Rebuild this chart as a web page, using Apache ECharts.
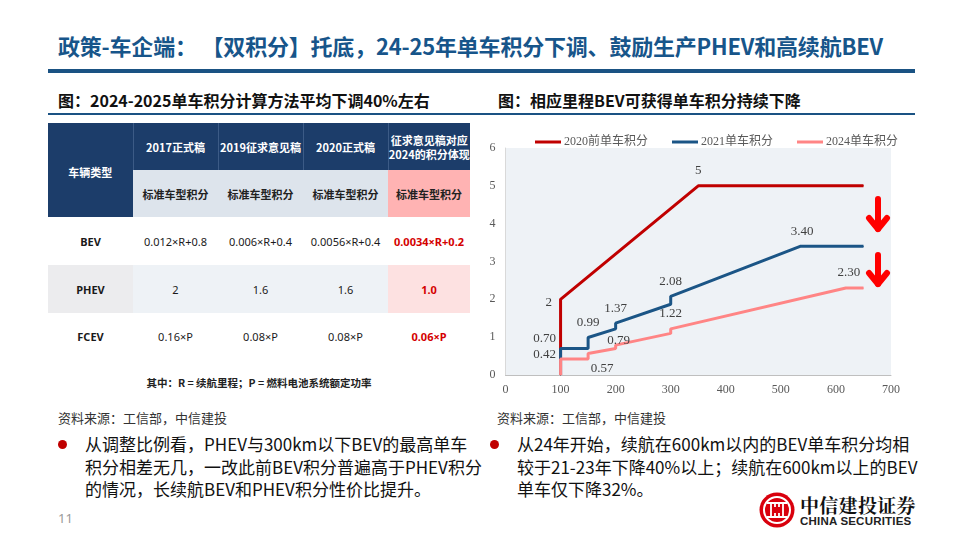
<!DOCTYPE html>
<html>
<head>
<meta charset="utf-8">
<script src="https://cdn.jsdelivr.net/npm/echarts@6/dist/echarts.min.js"></script>
<style>
  html,body{margin:0;padding:0;background:#fff;}
  #slide{position:relative;width:960px;height:540px;overflow:hidden;background:#fff;font-family:"Noto Sans CJK SC","Noto Sans",sans-serif;color:#1a1a1a;}
  .abs{position:absolute;white-space:nowrap;}
  #title{left:58px;top:30px;font-size:22px;font-weight:bold;color:#17558a;line-height:30px;letter-spacing:-0.2px;}
  .thick{position:absolute;left:48px;width:867px;top:69px;height:4px;background:#1a5283;}
  .thin{position:absolute;left:48px;width:867px;top:113px;height:2px;background:#1a5283;}
  .sub{font-size:16px;font-weight:bold;color:#111;line-height:22px;top:89px;}
  table{position:absolute;left:48px;top:123px;border-collapse:collapse;table-layout:fixed;font-size:11px;font-family:"Noto Sans","Noto Sans CJK SC",sans-serif;}
  td{padding:0;text-align:center;vertical-align:middle;}
  .hd{background:#1c3d6a;color:#fff;font-weight:bold;border-left:1px solid #3c5b86;line-height:14px;font-family:"Noto Sans CJK SC",sans-serif;}
  .sh{background:#dde4ec;font-weight:bold;color:#222;font-size:11px;font-family:"Noto Sans CJK SC",sans-serif;}
  .pinkh{background:#ffb3b3;}
  .rowg td{background:#eef2f6;}
  .rowg td.c0{background:#ececee;}
  .rowg td.pk{background:#fde1e1;}
  .c0{font-weight:bold;}
  .red{color:#d40000;font-weight:bold;}
  .note{font-size:10.5px;font-weight:bold;color:#222;}
  .src{font-size:13px;color:#333;top:409px;line-height:18px;}
  .bullet{font-size:17px;line-height:22.5px;color:#111;top:433px;white-space:pre;}
  .dot{position:absolute;width:9px;height:9px;border-radius:50%;background:#c00000;top:440px;}
  #chart{position:absolute;left:480px;top:120px;width:440px;height:290px;}
</style>
</head>
<body>
<div id="slide">
  <div id="title" class="abs"></div>
  <div class="thick"></div>
  <div class="abs sub" style="left:58px;" id="subL"></div>
  <div class="abs sub" style="left:498px;" id="subR"></div>
  <div class="thin"></div>
  <table id="tbl"></table>
  <div class="abs note" id="note" style="left:48px;width:422px;text-align:center;top:375px;"></div>
  <div class="abs src" style="left:58px;" id="srcL"></div>
  <div class="abs src" style="left:497px;" id="srcR"></div>
  <div class="dot" style="left:58px;"></div>
  <div class="abs bullet" style="left:85px;" id="bulL"></div>
  <div class="dot" style="left:490px;"></div>
  <div class="abs bullet" style="left:517px;" id="bulR"></div>
  <div class="abs" style="left:58px;top:509px;font-size:13px;color:#999;font-family:'Noto Sans',sans-serif;" id="page"></div>
  <div id="chart"></div>
  <svg class="abs" style="left:758px;top:491px;" width="40" height="40" viewBox="0 0 40 40">
    <circle cx="19" cy="19" r="17.5" fill="#d9000d"/>
    <circle cx="19" cy="19" r="13" fill="none" stroke="#fff" stroke-width="2"/>
    <path d="M9 12 H29 M9 26 H29" stroke="#fff" stroke-width="2"/>
    <path d="M13 12 V26 M17 12 V26 M21 12 V26 M25 12 V26" stroke="#fff" stroke-width="1.8"/>
    <rect x="15" y="16" width="8" height="6" fill="#d9000d"/>
  </svg>
  <div class="abs" style="left:800px;top:494px;font-size:19px;font-weight:bold;font-family:'Noto Serif CJK SC','Noto Sans CJK SC',serif;color:#111;line-height:22px;letter-spacing:0.3px;">中信建投证券</div>
  <div class="abs" style="left:800px;top:514px;font-size:11.5px;font-weight:bold;font-family:'Liberation Sans',Arial,sans-serif;color:#222;line-height:14px;letter-spacing:0.2px;">CHINA SECURITIES</div>
</div>
<script>
// ---------- slide text ----------
const titleText = '政策-车企端： 【双积分】托底，24-25年单车积分下调、鼓励生产PHEV和高续航BEV';
const leftSubtitle = '图：2024-2025单车积分计算方法平均下调40%左右';
const rightSubtitle = '图：相应里程BEV可获得单车积分持续下降';
const sourceText = '资料来源：工信部，中信建投';
const leftBullet = ['从调整比例看，PHEV与300km以下BEV的最高单车','积分相差无几，一改此前BEV积分普遍高于PHEV积分','的情况，长续航BEV和PHEV积分性价比提升。'];
const rightBullet = ['从24年开始，续航在600km以内的BEV单车积分均相','较于21-23年下降40%以上；续航在600km以上的BEV','单车仅下降32%。'];
const pageNumber = '11';

// ---------- table data ----------
const tableCorner = '车辆类型';
const tableVersions = ['2017正式稿','2019征求意见稿','2020正式稿','征求意见稿对应\n2024的积分体现'];
const tableSubHeader = '标准车型积分';
const vehicleTypes = ['BEV','PHEV','FCEV'];
const bevCredits = ['0.012×R+0.8','0.006×R+0.4','0.0056×R+0.4','0.0034×R+0.2'];
const phevCredits = ['2','1.6','1.6','1.0'];
const fcevCredits = ['0.16×P','0.08×P','0.08×P','0.06×P'];
const tableNote = '其中：R = 续航里程；P = 燃料电池系统额定功率';

// ---------- chart data ----------
const seriesNames = ['2020前单车积分','2021单车积分','2024单车积分'];
const range2020 = [100,100,350,650];
const credit2020 = [0,2,5,5];
const range2021 = [100,100,150,150,200,200,300,300,535,650];
const credit2021 = [0,0.70,0.70,0.99,1.22,1.37,1.87,2.08,3.40,3.40];
const range2024 = [100,100,150,150,200,200,300,300,618,650];
const credit2024 = [0,0.42,0.42,0.57,0.70,0.79,1.10,1.22,2.30,2.30];

// fill slide text
document.getElementById('title').textContent = titleText;
document.getElementById('subL').textContent = leftSubtitle;
document.getElementById('subR').textContent = rightSubtitle;
document.getElementById('srcL').textContent = sourceText;
document.getElementById('srcR').textContent = sourceText;
document.getElementById('bulL').textContent = leftBullet.join('\n');
document.getElementById('bulR').textContent = rightBullet.join('\n');
document.getElementById('page').textContent = pageNumber;
document.getElementById('note').textContent = tableNote;

// build table
(function(){
  const colW = [85,85,85,85,82];
  const rowH = [47,47,48,48,47];
  const t = document.getElementById('tbl');
  let html = '<colgroup>' + colW.map(w=>'<col style="width:'+w+'px">').join('') + '</colgroup>';
  html += '<tr style="height:'+rowH[0]+'px"><td rowspan="2" class="hd" style="border-left:none;font-size:11px;padding-top:4px">'+tableCorner+'</td>';
  tableVersions.forEach(v=>{ html += '<td class="hd" style="white-space:pre-line;font-size:11px">'+v+'</td>'; });
  html += '</tr><tr style="height:'+rowH[1]+'px">';
  tableVersions.forEach((v,i)=>{ html += '<td class="sh'+(i===3?' pinkh':'')+'">'+tableSubHeader+'</td>'; });
  html += '</tr>';
  const rows = [bevCredits, phevCredits, fcevCredits];
  rows.forEach((r,ri)=>{
    html += '<tr class="'+(ri===1?'rowg':'')+'" style="height:'+rowH[2+ri]+'px"><td class="c0">'+vehicleTypes[ri]+'</td>';
    r.forEach((v,i)=>{ html += '<td class="'+(i===3?'red pk':'')+'">'+v+'</td>'; });
    html += '</tr>';
  });
  t.innerHTML = html;
})();

// ---------- chart ----------
const chart = echarts.init(document.getElementById('chart'));
const colors = ['#c00000','#1b5586','#ff8585'];
const ranges = [range2020, range2021, range2024];
const credits = [credit2020, credit2021, credit2024];
// label placement per series / point index (presentation only)
const labelSpec = [
  {1:{position:'left',distance:8,offset:[0,3],digits:0}, 2:{position:'top',distance:8,digits:0}},
  {1:{position:'left',distance:4,offset:[0,-10]}, 3:{position:'top',distance:8}, 5:{position:'top',distance:8}, 7:{position:'top',distance:8}, 8:{position:'top',distance:8,offset:[2,0]}},
  {1:{position:'left',distance:4,offset:[0,-5]}, 3:{position:'bottom',distance:8,offset:[14,0]}, 5:{position:'top',distance:0,offset:[3,2]}, 7:{position:'top',distance:8}, 8:{position:'top',distance:8,offset:[3,0]}}
];
const serif = "'Liberation Serif','Times New Roman','Noto Sans CJK SC',serif";
const series = seriesNames.map((name,si)=>({
  name, type:'line',
  symbol:'circle', symbolSize:1, showSymbol:true,
  itemStyle:{color:colors[si]},
  lineStyle:{width:3,color:colors[si]},
  z: 2+si,
  animation:false,
  data: ranges[si].map((x,i)=>{
    const spec = labelSpec[si][i];
    const item = {value:[x, credits[si][i]]};
    if (spec) {
      const d = spec.digits===undefined?2:spec.digits;
      item.label = {show:true, position:spec.position, distance:spec.distance, offset:spec.offset||[0,0],
        fontFamily:serif, fontSize:13, color:'#404040',
        formatter:(p)=>p.value[1].toFixed(d)};
    }
    return item;
  })
}));

function arrow(x, y1, y2){
  return {type:'group', children:[
    {type:'polyline', shape:{points:[[x,y1],[x,y2]]}, style:{stroke:'#ff0000',lineWidth:6,lineCap:'round'}},
    {type:'polyline', shape:{points:[[x-9,y2-11],[x,y2],[x+9,y2-11]]}, style:{stroke:'#ff0000',fill:null,lineWidth:6,lineCap:'round',lineJoin:'round'}}
  ]};
}

chart.setOption({
  animation:false,
  color: colors,
  legend:{
    left:50, top:11, itemWidth:26, itemHeight:3, itemGap:24,
    icon:'rect',
    textStyle:{fontFamily:serif, fontSize:12, color:'#595959', padding:[0,0,0,-2]},
    data: seriesNames
  },
  grid:{left:25.5, right:29, top:28, bottom:35, show:true, backgroundColor:'#eef2f6', borderWidth:0},
  xAxis:{
    type:'value', min:0, max:700, interval:100,
    axisLine:{show:true, lineStyle:{color:'#bfbfbf',width:1}},
    axisTick:{show:false}, splitLine:{show:false},
    axisLabel:{fontFamily:serif, fontSize:12, color:'#595959', margin:9}
  },
  yAxis:{
    type:'value', min:0, max:6, interval:1,
    axisLine:{show:true, lineStyle:{color:'#d9d9d9',width:1}},
    axisTick:{show:false}, splitLine:{show:false},
    axisLabel:{fontFamily:serif, fontSize:12, color:'#595959', margin:10}
  },
  series,
  graphic:[ arrow(398, 79, 109), arrow(398, 135, 164) ]
});
</script>
</body>
</html>
